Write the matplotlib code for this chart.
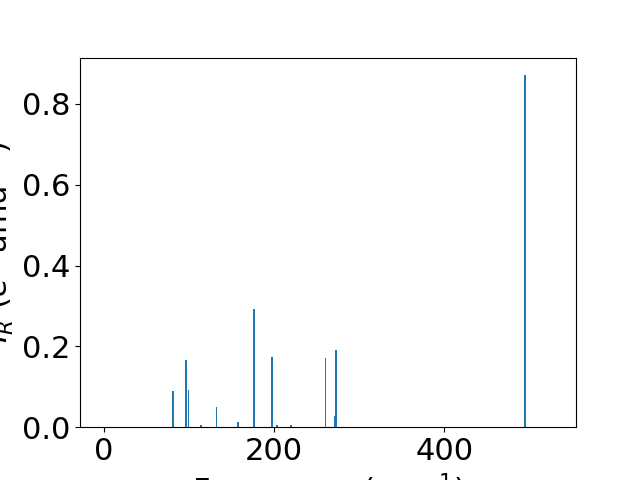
import matplotlib
matplotlib.use('Agg')
import matplotlib.pyplot as plt

# IR active modes: frequency (cm^-1) and intensity
freqs = [81.5, 97.0, 99.6, 114.5, 132.5, 157.6, 176.5, 197.6, 203.5, 220.0,
         260.4, 271.4, 273.0, 495.3]
intensities = [0.089, 0.166, 0.092, 0.005, 0.050, 0.012, 0.292, 0.173, 0.005,
               0.005, 0.171, 0.027, 0.191, 0.871]

plt.rcParams['font.size'] = 22

fig, ax = plt.subplots(figsize=(6.4, 4.8), dpi=100)
ax.bar(freqs, intensities, width=2, color='#1f77b4')
ax.set_xlim(-28, 555)
ax.set_xlabel('Frequency (cm$^{-1}$)')
ax.set_ylabel('$I_R$ ($e^2$ amu$^{-1}$)')

plt.savefig('out.png')
